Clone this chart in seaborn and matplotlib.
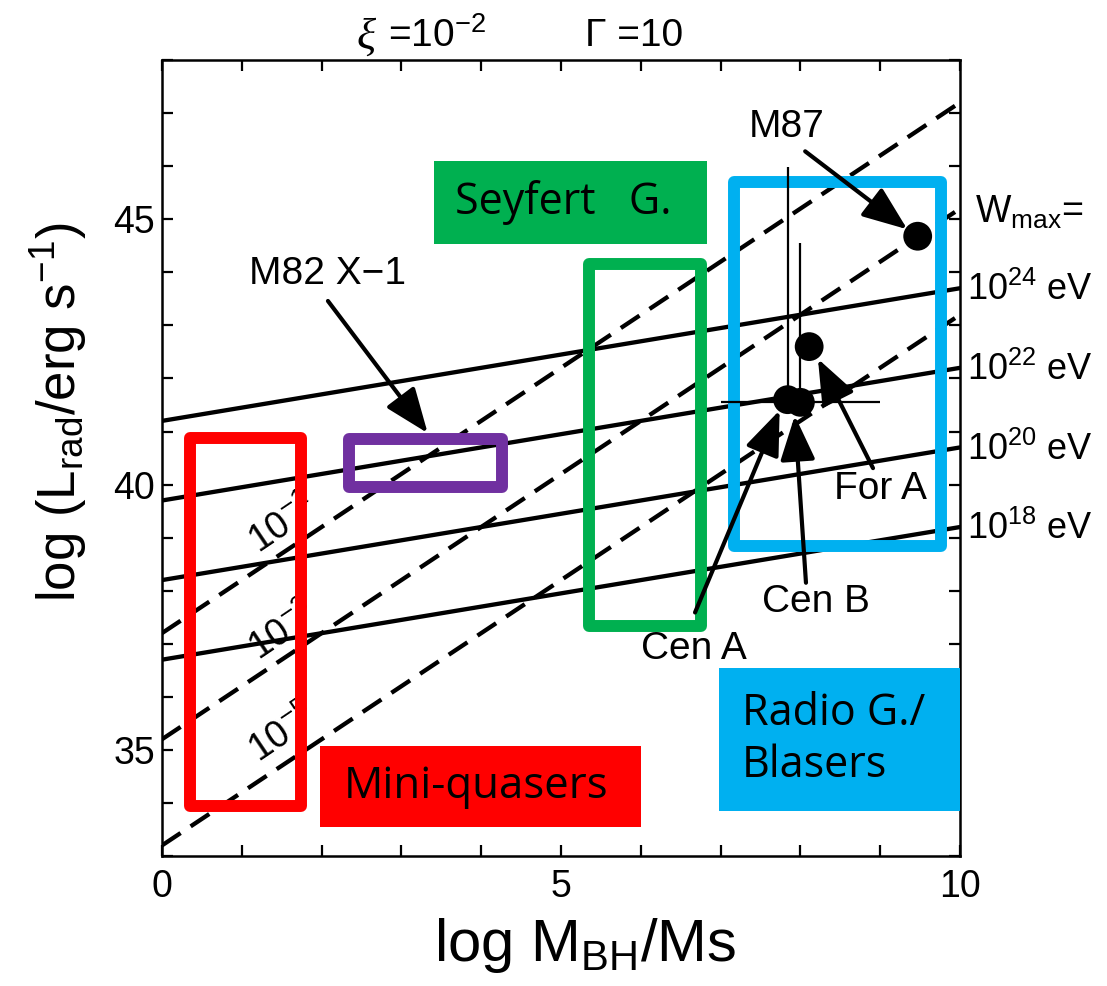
import matplotlib
matplotlib.use("Agg")
import matplotlib.pyplot as plt
from matplotlib.patches import Rectangle
import seaborn as sns
import pandas as pd

# ---- data -------------------------------------------------------------
mass_ends = [0.0, 10.0]

# maximum-energy lines (solid): luminosity at log M = 0 and log M = 10
wmax_labels = ["10$^{24}$ eV", "10$^{22}$ eV", "10$^{20}$ eV", "10$^{18}$ eV"]
wmax_lum_left = [41.2, 39.7, 38.2, 36.7]
wmax_lum_right = [43.7, 42.2, 40.7, 39.2]

# accretion-rate lines (dashed)
eta_labels = ["10$^{-1}$", "10$^{-3}$", "10$^{-5}$"]
eta_lum_left = [37.2, 35.2, 33.2]
eta_lum_right = [47.2, 45.2, 43.2]
eta_label_x = [1.52, 1.52, 1.52]
eta_label_y = [39.24, 37.23, 35.3]

# observed sources
src_names = ["M87", "For A", "Cen A", "Cen B"]
src_mass = [9.47, 8.11, 7.84, 8.00]
src_lum = [44.68, 42.60, 41.60, 41.55]
src_lum_up = [0.0, 0.0, 4.39, 3.00]
src_mass_err = [0.0, 0.0, 0.0, 1.0]

# source label / arrow geometry (data coords)
lbl_xy = [(7.83, 46.73), (9.0, 39.92), (6.66, 36.9), (8.2, 37.78)]
arrow_tail = [(8.06, 46.28), (8.91, 40.31), (6.68, 37.59), (8.07, 38.15)]
arrow_tip = [(9.34, 44.81), (8.22, 42.37), (7.74, 41.40), (7.93, 41.30)]

m82_label = "M82 X\u22121"
m82_lbl_xy = (2.08, 43.97)
m82_tail = (2.08, 43.46)
m82_tip = (3.33, 40.97)

# class regions: (x0, x1, y0, y1)
region_names = ["Mini-quasers", "M82", "Seyfert", "Radio"]
region_colors = ["#FF0000", "#7030A0", "#00B050", "#00B0F0"]
region_bounds = [(0.35, 1.74, 33.95, 40.87), (2.34, 4.26, 39.95, 40.85),
                 (5.35, 6.75, 37.33, 44.16), (7.17, 9.76, 38.85, 45.71)]

# filled class labels: text, colour, box, text anchor x, font size
tag_texts = ["Mini-quasers", "Seyfert   G.", "Radio G./\nBlasers"]
tag_colors = ["#FF0000", "#00B050", "#00B0F0"]
tag_bounds = [(1.98, 6.0, 33.54, 35.08), (3.41, 6.83, 44.53, 46.09),
              (6.98, 10.05, 33.84, 36.54)]
tag_text_x = [2.28, 3.67, 7.27]
tag_sizes = [31.5, 31, 31]

# ---- style ------------------------------------------------------------
sns.set_theme(style="ticks")
plt.rcParams["font.family"] = ["Liberation Sans", "DejaVu Sans"]
plt.rcParams["mathtext.fontset"] = "custom"
plt.rcParams["mathtext.rm"] = "Liberation Sans"
plt.rcParams["mathtext.it"] = "Liberation Sans:italic"
plt.rcParams["mathtext.bf"] = "Liberation Sans:bold"
plt.rcParams["text.color"] = "black"
plt.rcParams["axes.labelcolor"] = "black"
plt.rcParams["xtick.color"] = "black"
plt.rcParams["ytick.color"] = "black"

fig = plt.figure(figsize=(11.07, 9.86), dpi=100)
ax = fig.add_axes([0.1463, 0.1318, 0.7209, 0.8073])

# solid W_max lines
for lo, hi in zip(wmax_lum_left, wmax_lum_right):
    df = pd.DataFrame({"m": mass_ends, "L": [lo, hi]})
    sns.lineplot(data=df, x="m", y="L", ax=ax, color="black", lw=3.1, zorder=2)

# dashed accretion lines
for lo, hi in zip(eta_lum_left, eta_lum_right):
    df = pd.DataFrame({"m": mass_ends, "L": [lo, hi]})
    sns.lineplot(data=df, x="m", y="L", ax=ax, color="black", lw=3.1, zorder=2)
    ax.lines[-1].set_dashes((5.2, 2.8))

for t, x, y in zip(eta_labels, eta_label_x, eta_label_y):
    ax.text(x, y, t, rotation=34, rotation_mode="anchor", ha="center",
            va="center", fontsize=27, color="black", zorder=2)

# region outlines
for (x0, x1, y0, y1), c in zip(region_bounds, region_colors):
    ax.add_patch(Rectangle((x0, y0), x1 - x0, y1 - y0, fill=False,
                           edgecolor=c, lw=8.6, joinstyle="round", zorder=3))

# filled labels
for t, c, (x0, x1, y0, y1) in zip(tag_texts, tag_colors, tag_bounds):
    ax.add_patch(Rectangle((x0, y0), x1 - x0, y1 - y0, facecolor=c,
                           edgecolor="none", zorder=3, clip_on=True))
for t, (x0, x1, y0, y1), tx, fs in zip(tag_texts, tag_bounds, tag_text_x, tag_sizes):
    ax.text(tx, (y0 + y1) / 2, t, ha="left", va="center", fontsize=fs,
            family="Open Sans", linespacing=1.2, zorder=4)

# error bars
for x, y, up, xe in zip(src_mass, src_lum, src_lum_up, src_mass_err):
    if up > 0:
        ax.errorbar([x], [y], yerr=[[0], [up]], fmt="none", ecolor="black",
                    elinewidth=1.6, capsize=0, zorder=4)
    if xe > 0:
        ax.errorbar([x], [y], xerr=[[xe], [xe]], fmt="none", ecolor="black",
                    elinewidth=1.6, capsize=0, zorder=4)

# sources
sns.scatterplot(x=src_mass, y=src_lum, ax=ax, color="black", s=430,
                edgecolor="none", zorder=5)

arrow_kw = dict(arrowstyle="-|>,head_length=1.15,head_width=0.45",
                color="black", lw=3, shrinkA=0, shrinkB=0, mutation_scale=24)
for name, lxy, tail, tip in zip(src_names, lbl_xy, arrow_tail, arrow_tip):
    ax.annotate("", xy=tip, xytext=tail, arrowprops=arrow_kw, zorder=6)
    ax.text(*lxy, name, ha="center", va="center", fontsize=28, zorder=6)

ax.annotate("", xy=m82_tip, xytext=m82_tail, arrowprops=arrow_kw, zorder=6)
ax.text(*m82_lbl_xy, m82_label, ha="center", va="center", fontsize=28, zorder=6)

# axes
ax.set_xlim(0, 10)
ax.set_ylim(33, 48)
ax.set_xticks([0, 5, 10])
ax.set_yticks([35, 40, 45])
ax.set_xticks(range(0, 11), minor=True)
ax.set_yticks(range(33, 49), minor=True)
ax.tick_params(which="both", direction="in", top=True, right=True,
               length=8, width=1.6, color="black")
ax.tick_params(axis="x", which="major", labelsize=27, pad=9)
ax.tick_params(axis="y", which="major", labelsize=27, pad=5)
for sp in ax.spines.values():
    sp.set_linewidth(1.8)
    sp.set_color("black")

ax.set_xlabel("log M$_\\mathrm{BH}$/Ms", fontsize=43)
ax.set_ylabel("log (L$_\\mathrm{rad}$/erg s$^{-1}$)", fontsize=38)
ax.xaxis.set_label_coords(0.53, -0.075)
ax.yaxis.set_label_coords(-0.092, 0.557)

# header
fig.text(356 / 1107, 1 - 38 / 986, "\u03be", family="Liberation Serif",
         style="italic", ha="left", va="center", fontsize=32)
fig.text(388 / 1107, 1 - 36 / 986, "=10$^{-2}$", ha="left", va="center",
         fontsize=28)
fig.text(585 / 1107, 1 - 36 / 986, "\u0393 =10", ha="left", va="center",
         fontsize=28)

# W_max labels at the right edge
fig.text(975 / 1107, 1 - 212 / 986, "W$_\\mathrm{max}$=", ha="left",
         va="center", fontsize=27)
for t, lum in zip(wmax_labels, wmax_lum_right):
    xf, yf = fig.transFigure.inverted().transform(ax.transData.transform((10, lum)))
    fig.text(967 / 1107, yf - 0.002, t, ha="left", va="center", fontsize=26)

fig.savefig("out.png", dpi=100)
